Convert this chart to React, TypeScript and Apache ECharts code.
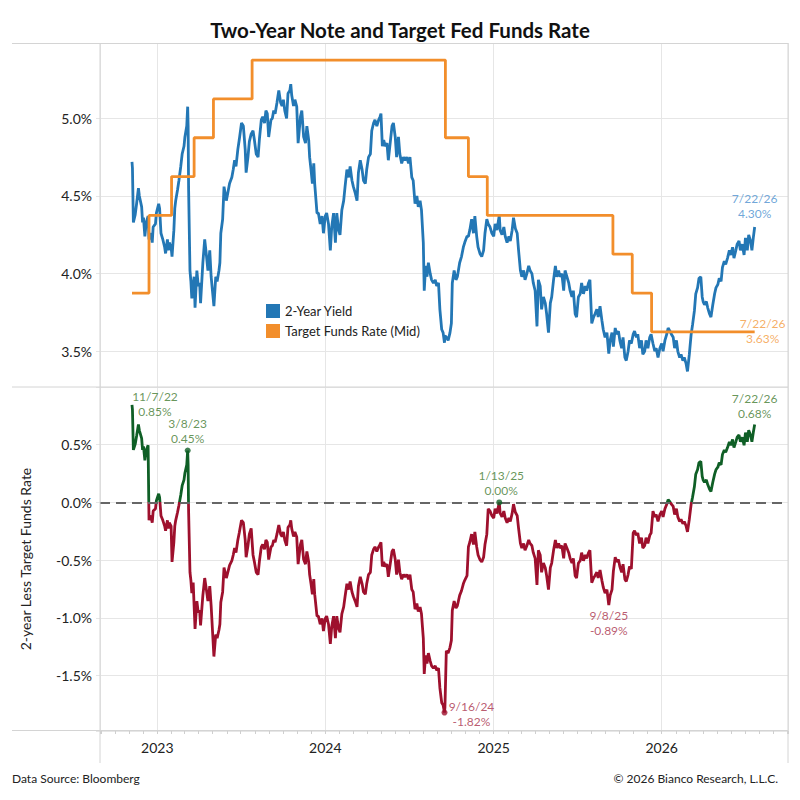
import React, { useEffect, useRef } from "react";
import * as echarts from "echarts";

// ---------- DATA ----------
const twoYearYield: [string, number][] = [
  ["2022-11-07", 4.72], ["2022-11-08", 4.68], ["2022-11-10", 4.33], ["2022-11-14", 4.38], ["2022-11-17", 4.45],
  ["2022-11-21", 4.55], ["2022-11-23", 4.5], ["2022-11-28", 4.43], ["2022-11-30", 4.33], ["2022-12-02", 4.36],
  ["2022-12-05", 4.24], ["2022-12-08", 4.33], ["2022-12-12", 4.37], ["2022-12-14", 4.22], ["2022-12-16", 4.26],
  ["2022-12-19", 4.24], ["2022-12-21", 4.2], ["2022-12-23", 4.3], ["2022-12-28", 4.32], ["2022-12-30", 4.39],
  ["2023-01-04", 4.45], ["2023-01-06", 4.42], ["2023-01-09", 4.26], ["2023-01-11", 4.24], ["2023-01-13", 4.22],
  ["2023-01-17", 4.17], ["2023-01-19", 4.13], ["2023-01-23", 4.22], ["2023-01-25", 4.15], ["2023-01-27", 4.2],
  ["2023-01-31", 4.17], ["2023-02-02", 4.11], ["2023-02-06", 4.28], ["2023-02-08", 4.42], ["2023-02-10", 4.47],
  ["2023-02-14", 4.54], ["2023-02-17", 4.6], ["2023-02-21", 4.69], ["2023-02-24", 4.77], ["2023-02-28", 4.82],
  ["2023-03-02", 4.88], ["2023-03-06", 4.95], ["2023-03-08", 5.075], ["2023-03-09", 4.95], ["2023-03-10", 4.55],
  ["2023-03-13", 4.02], ["2023-03-15", 3.95], ["2023-03-17", 3.84], ["2023-03-20", 3.93], ["2023-03-22", 3.98],
  ["2023-03-24", 3.78], ["2023-03-28", 4.02], ["2023-03-31", 3.92], ["2023-04-03", 3.94], ["2023-04-05", 3.81],
  ["2023-04-10", 4.07], ["2023-04-14", 4.22], ["2023-04-18", 4.11], ["2023-04-21", 4.02], ["2023-04-25", 4.15],
  ["2023-04-28", 3.98], ["2023-05-04", 3.79], ["2023-05-08", 3.98], ["2023-05-11", 3.95], ["2023-05-15", 4.02],
  ["2023-05-17", 4.07], ["2023-05-19", 4.26], ["2023-05-23", 4.35], ["2023-05-26", 4.56], ["2023-05-31", 4.47],
  ["2023-06-02", 4.5], ["2023-06-07", 4.58], ["2023-06-12", 4.62], ["2023-06-15", 4.67], ["2023-06-18", 4.73],
  ["2023-06-21", 4.69], ["2023-06-25", 4.8], ["2023-06-28", 4.86], ["2023-07-03", 4.97], ["2023-07-07", 4.95],
  ["2023-07-11", 4.8], ["2023-07-13", 4.65], ["2023-07-17", 4.75], ["2023-07-20", 4.85], ["2023-07-24", 4.9],
  ["2023-07-28", 4.92], ["2023-07-31", 4.86], ["2023-08-04", 4.77], ["2023-08-08", 4.75], ["2023-08-11", 4.87],
  ["2023-08-15", 4.99], ["2023-08-18", 5.01], ["2023-08-22", 4.97], ["2023-08-25", 5.05], ["2023-08-28", 5.03],
  ["2023-08-31", 4.88], ["2023-09-05", 4.99], ["2023-09-08", 5.0], ["2023-09-11", 5.05], ["2023-09-14", 5.03],
  ["2023-09-18", 5.1], ["2023-09-20", 5.14], ["2023-09-22", 5.18], ["2023-09-26", 5.1], ["2023-09-29", 5.08],
  ["2023-10-02", 5.12], ["2023-10-05", 5.05], ["2023-10-09", 5.0], ["2023-10-12", 5.16], ["2023-10-16", 5.18],
  ["2023-10-18", 5.22], ["2023-10-20", 5.15], ["2023-10-24", 5.08], ["2023-10-27", 5.12], ["2023-10-31", 5.075],
  ["2023-11-03", 4.84], ["2023-11-08", 5.01], ["2023-11-11", 5.05], ["2023-11-15", 4.88], ["2023-11-19", 4.84],
  ["2023-11-22", 4.95], ["2023-11-26", 4.86], ["2023-11-28", 4.75], ["2023-12-01", 4.67], ["2023-12-04", 4.58],
  ["2023-12-07", 4.71], ["2023-12-09", 4.58], ["2023-12-14", 4.39], ["2023-12-17", 4.39], ["2023-12-21", 4.32],
  ["2023-12-25", 4.37], ["2023-12-28", 4.26], ["2024-01-01", 4.37], ["2024-01-04", 4.39], ["2024-01-08", 4.32],
  ["2024-01-12", 4.15], ["2024-01-15", 4.3], ["2024-01-19", 4.39], ["2024-01-23", 4.2], ["2024-01-26", 4.39],
  ["2024-01-30", 4.28], ["2024-02-02", 4.25], ["2024-02-06", 4.41], ["2024-02-10", 4.47], ["2024-02-13", 4.56],
  ["2024-02-17", 4.67], ["2024-02-21", 4.62], ["2024-02-24", 4.69], ["2024-02-28", 4.6], ["2024-03-02", 4.56],
  ["2024-03-06", 4.52], ["2024-03-10", 4.47], ["2024-03-13", 4.65], ["2024-03-17", 4.73], ["2024-03-21", 4.67],
  ["2024-03-24", 4.6], ["2024-03-28", 4.58], ["2024-03-31", 4.67], ["2024-04-04", 4.75], ["2024-04-08", 4.77],
  ["2024-04-11", 4.92], ["2024-04-15", 4.97], ["2024-04-18", 4.99], ["2024-04-22", 4.95], ["2024-04-26", 4.99],
  ["2024-04-29", 5.01], ["2024-05-01", 5.03], ["2024-05-04", 4.82], ["2024-05-07", 4.86], ["2024-05-10", 4.82],
  ["2024-05-14", 4.84], ["2024-05-17", 4.73], ["2024-05-21", 4.84], ["2024-05-25", 4.95], ["2024-05-28", 4.97],
  ["2024-06-01", 4.88], ["2024-06-04", 4.75], ["2024-06-08", 4.88], ["2024-06-11", 4.77], ["2024-06-15", 4.71],
  ["2024-06-19", 4.75], ["2024-06-22", 4.73], ["2024-06-26", 4.75], ["2024-06-30", 4.71], ["2024-07-03", 4.75],
  ["2024-07-07", 4.62], ["2024-07-10", 4.6], ["2024-07-14", 4.45], ["2024-07-18", 4.5], ["2024-07-21", 4.43],
  ["2024-07-25", 4.47], ["2024-07-28", 4.41], ["2024-08-01", 4.2], ["2024-08-03", 3.89], ["2024-08-06", 4.05],
  ["2024-08-09", 3.98], ["2024-08-12", 4.07], ["2024-08-16", 4.0], ["2024-08-19", 3.96], ["2024-08-23", 3.94],
  ["2024-08-27", 3.96], ["2024-08-30", 3.92], ["2024-09-03", 3.94], ["2024-09-06", 3.77], ["2024-09-10", 3.64],
  ["2024-09-13", 3.62], ["2024-09-16", 3.555], ["2024-09-17", 3.6], ["2024-09-20", 3.59], ["2024-09-24", 3.57],
  ["2024-09-28", 3.62], ["2024-10-01", 3.68], ["2024-10-03", 3.94], ["2024-10-07", 4.02], ["2024-10-11", 3.96],
  ["2024-10-14", 3.98], ["2024-10-19", 4.07], ["2024-10-23", 4.11], ["2024-10-27", 4.17], ["2024-10-30", 4.2],
  ["2024-11-04", 4.24], ["2024-11-07", 4.24], ["2024-11-10", 4.28], ["2024-11-14", 4.35], ["2024-11-18", 4.26],
  ["2024-11-21", 4.37], ["2024-11-25", 4.24], ["2024-11-28", 4.17], ["2024-12-02", 4.13], ["2024-12-06", 4.11],
  ["2024-12-10", 4.15], ["2024-12-13", 4.26], ["2024-12-17", 4.35], ["2024-12-20", 4.32], ["2024-12-24", 4.3],
  ["2024-12-28", 4.26], ["2025-01-01", 4.24], ["2025-01-04", 4.32], ["2025-01-08", 4.28], ["2025-01-13", 4.375],
  ["2025-01-15", 4.28], ["2025-01-19", 4.25], ["2025-01-23", 4.3], ["2025-01-26", 4.24], ["2025-01-30", 4.2],
  ["2025-02-03", 4.24], ["2025-02-06", 4.21], ["2025-02-10", 4.28], ["2025-02-13", 4.36], ["2025-02-17", 4.29],
  ["2025-02-21", 4.26], ["2025-02-24", 4.15], ["2025-02-28", 4.02], ["2025-03-03", 3.98], ["2025-03-07", 4.02],
  ["2025-03-10", 3.96], ["2025-03-14", 4.0], ["2025-03-18", 4.05], ["2025-03-21", 4.02], ["2025-03-25", 4.0],
  ["2025-03-28", 3.94], ["2025-04-01", 3.89], ["2025-04-05", 3.66], ["2025-04-08", 3.96], ["2025-04-12", 3.92],
  ["2025-04-15", 3.77], ["2025-04-19", 3.85], ["2025-04-23", 3.81], ["2025-04-26", 3.74], ["2025-04-30", 3.62],
  ["2025-05-04", 3.81], ["2025-05-07", 3.85], ["2025-05-11", 3.96], ["2025-05-15", 4.05], ["2025-05-18", 3.98],
  ["2025-05-22", 4.02], ["2025-05-25", 3.98], ["2025-05-29", 4.0], ["2025-06-02", 3.89], ["2025-06-05", 4.02],
  ["2025-06-09", 3.98], ["2025-06-13", 3.94], ["2025-06-16", 3.89], ["2025-06-20", 3.85], ["2025-06-23", 3.89],
  ["2025-06-27", 3.74], ["2025-06-30", 3.72], ["2025-07-04", 3.85], ["2025-07-08", 3.87], ["2025-07-11", 3.94],
  ["2025-07-15", 3.87], ["2025-07-19", 3.92], ["2025-07-22", 3.89], ["2025-07-26", 3.94], ["2025-07-29", 3.96],
  ["2025-08-02", 3.68], ["2025-08-06", 3.72], ["2025-08-09", 3.74], ["2025-08-13", 3.77], ["2025-08-16", 3.72],
  ["2025-08-20", 3.79], ["2025-08-24", 3.7], ["2025-08-27", 3.64], ["2025-08-31", 3.59], ["2025-09-04", 3.62],
  ["2025-09-08", 3.485], ["2025-09-11", 3.57], ["2025-09-15", 3.62], ["2025-09-18", 3.53], ["2025-09-22", 3.65],
  ["2025-09-25", 3.61], ["2025-09-29", 3.63], ["2025-10-02", 3.57], ["2025-10-06", 3.52], ["2025-10-09", 3.59],
  ["2025-10-13", 3.46], ["2025-10-16", 3.44], ["2025-10-20", 3.5], ["2025-10-23", 3.57], ["2025-10-27", 3.55],
  ["2025-10-31", 3.61], ["2025-11-03", 3.63], ["2025-11-07", 3.59], ["2025-11-10", 3.61], ["2025-11-14", 3.52],
  ["2025-11-18", 3.57], ["2025-11-21", 3.48], ["2025-11-25", 3.5], ["2025-11-28", 3.57], ["2025-12-02", 3.52],
  ["2025-12-06", 3.59], ["2025-12-09", 3.61], ["2025-12-13", 3.55], ["2025-12-17", 3.5], ["2025-12-20", 3.52],
  ["2025-12-24", 3.46], ["2025-12-28", 3.52], ["2026-01-01", 3.55], ["2026-01-04", 3.5], ["2026-01-08", 3.57],
  ["2026-01-12", 3.61], ["2026-01-15", 3.65], ["2026-01-19", 3.63], ["2026-01-22", 3.61], ["2026-01-26", 3.59],
  ["2026-01-29", 3.52], ["2026-02-02", 3.57], ["2026-02-05", 3.5], ["2026-02-09", 3.46], ["2026-02-12", 3.48],
  ["2026-02-16", 3.44], ["2026-02-19", 3.46], ["2026-02-23", 3.42], ["2026-02-26", 3.37], ["2026-03-02", 3.48],
  ["2026-03-06", 3.61], ["2026-03-09", 3.67], ["2026-03-13", 3.76], ["2026-03-16", 3.87], ["2026-03-20", 3.91],
  ["2026-03-23", 3.97], ["2026-03-27", 3.98], ["2026-03-30", 3.85], ["2026-04-01", 3.82], ["2026-04-04", 3.8],
  ["2026-04-08", 3.82], ["2026-04-11", 3.78], ["2026-04-15", 3.74], ["2026-04-18", 3.72], ["2026-04-22", 3.8],
  ["2026-04-26", 3.87], ["2026-04-29", 3.91], ["2026-05-03", 3.93], ["2026-05-06", 3.97], ["2026-05-10", 3.95],
  ["2026-05-13", 4.04], ["2026-05-17", 4.08], ["2026-05-20", 4.06], ["2026-05-24", 4.1], ["2026-05-28", 4.15],
  ["2026-05-31", 4.12], ["2026-06-04", 4.17], ["2026-06-07", 4.1], ["2026-06-11", 4.15], ["2026-06-14", 4.19],
  ["2026-06-18", 4.21], ["2026-06-21", 4.15], ["2026-06-25", 4.19], ["2026-06-29", 4.12], ["2026-07-02", 4.23],
  ["2026-07-06", 4.15], ["2026-07-09", 4.25], ["2026-07-13", 4.21], ["2026-07-16", 4.15], ["2026-07-19", 4.23],
  ["2026-07-22", 4.3],
];

// Target fed funds rate (mid of range): [effective date, rate]
const fedFundsSteps: [string, number][] = [
  ["2022-11-07", 3.875], ["2022-12-14", 4.375], ["2023-02-01", 4.625], ["2023-03-22", 4.875],
  ["2023-05-03", 5.125], ["2023-07-26", 5.375], ["2024-09-18", 4.875], ["2024-11-07", 4.625],
  ["2024-12-18", 4.375], ["2025-09-17", 4.125], ["2025-10-29", 3.875], ["2025-12-10", 3.625],
  ["2026-07-22", 3.625],
];

const yearTicks = [2023, 2024, 2025, 2026];
const topTicks = [3.5, 4.0, 4.5, 5.0];
const bottomTicks = [-1.5, -1.0, -0.5, 0.0, 0.5];

const spreadNoteDates = ["2022-11-07", "2023-03-08", "2025-01-13", "2024-09-16", "2025-09-08", "2026-07-22"];
const spreadNoteTexts = ["11/7/22\n0.85%", "3/8/23\n0.45%", "1/13/25\n0.00%", "9/16/24\n-1.82%", "9/8/25\n-0.89%", "7/22/26\n0.68%"];
const yieldNoteDate = "2026-07-22";
const yieldNoteText = "7/22/26\n4.30%";
const fedNoteText = "7/22/26\n3.63%";

// ---------- helpers ----------
const ffAt = (d: string) => {
  let v = fedFundsSteps[0][1];
  for (const [sd, sv] of fedFundsSteps) if (sd <= d) v = sv;
  return v;
};
const spreadSeries: [string, number][] = twoYearYield.map(([d, y]) => [d, Math.round((y - ffAt(d)) * 1000) / 1000]);
const valueAt = (arr: [string, number][], d: string) => (arr.find((p) => p[0] === d) || arr[arr.length - 1])[1];

const FONT = "Lato, 'Open Sans', sans-serif";
const BLUE = "#2377b5";
const ORANGE = "#f28e2b";
const GREEN = "#0f5f26";
const RED = "#9e102d";
const GREEN_TXT = "#3f7a2f";
const RED_TXT = "#a8304a";
const GRID_C = "#e6e6e6";
const FRAME_C = "#d4d4d4";
const CLEAR = "rgba(0,0,0,0)";

const X_MIN = new Date(2022, 7, 29, 12).getTime();
const X_MAX = new Date(2026, 9, 2, 10).getTime();

const yearFmt = (v: number) => {
  const d = new Date(v);
  return d.getMonth() === 0 && d.getDate() === 1 && yearTicks.includes(d.getFullYear()) ? String(d.getFullYear()) : "";
};
const pctFmt = (ticks: number[]) => (v: number) =>
  ticks.some((t) => Math.abs(t - v) < 1e-6) ? v.toFixed(1) + "%" : "";

// label offsets / styling for notes (presentation, not data)
const spreadNoteStyle = [
  { off: [23, -1], c: GREEN_TXT, dot: 0, dc: GREEN },
  { off: [0, -19], c: GREEN_TXT, dot: 6, dc: GREEN },
  { off: [2, -19], c: GREEN_TXT, dot: 6, dc: GREEN },
  { off: [27, 1], c: RED_TXT, dot: 6, dc: RED },
  { off: [0, 18], c: RED_TXT, dot: 0, dc: RED },
  { off: [0, -19], c: GREEN_TXT, dot: 0, dc: GREEN },
];

export default function App() {
  const ref = useRef<HTMLDivElement>(null);
  useEffect(() => {
    document.body.style.margin = "0";
    if (!ref.current) return;
    const chart = echarts.init(ref.current, undefined, { renderer: "svg" });

    const yearAxisBase = {
      type: "time",
      min: X_MIN,
      max: X_MAX,
      splitNumber: 4,
      axisLine: { show: false },
      axisTick: { show: false },
      splitLine: { show: true, lineStyle: { color: GRID_C, width: 1 } },
    };

    const noteLabel = (text: string, color: string, off: number[]) => ({
      show: true,
      position: "inside",
      offset: off,
      formatter: text,
      color,
      fontSize: 12,
      lineHeight: 15,
      fontFamily: FONT,
      align: "center",
    });

    const option: any = {
      animation: false,
      backgroundColor: "#ffffff",
      textStyle: { fontFamily: FONT },
      title: {
        text: "Two-Year Note and Target Fed Funds Rate",
        left: "center",
        top: 14,
        textStyle: { fontFamily: FONT, fontSize: 20.5, fontWeight: "bold", color: "#111" },
      },
      legend: {
        data: ["2-Year Yield", "Target Funds Rate (Mid)"],
        orient: "vertical",
        left: 266,
        top: 304,
        padding: 0,
        icon: "rect",
        itemWidth: 14,
        itemHeight: 14,
        itemGap: 6,
        textStyle: { fontFamily: FONT, fontSize: 13, color: "#222" },
      },
      grid: [
        { left: 100, right: 12, top: 43, height: 344, containLabel: false },
        { left: 100, right: 12, top: 387, height: 344, containLabel: false },
      ],
      xAxis: [
        { ...yearAxisBase, gridIndex: 0, axisLabel: { show: false } },
        {
          ...yearAxisBase,
          gridIndex: 1,
          axisLabel: { show: true, formatter: yearFmt, fontFamily: FONT, fontSize: 14, color: "#222", margin: 9 },
        },
        {
          type: "time",
          gridIndex: 1,
          min: X_MIN,
          max: X_MAX,
          splitNumber: 50,
          position: "bottom",
          axisLine: { show: false },
          axisTick: { show: true, length: 3, lineStyle: { color: "#cfcfcf" } },
          axisLabel: { show: false },
          splitLine: { show: false },
        },
      ],
      yAxis: [
        {
          type: "value",
          gridIndex: 0,
          min: 3.27,
          max: 5.485,
          axisLine: { show: false },
          axisTick: { show: true, length: 4, lineStyle: { color: GRID_C } },
          splitLine: { lineStyle: { color: GRID_C } },
          axisLabel: { formatter: pctFmt(topTicks), fontFamily: FONT, fontSize: 14, color: "#222", margin: 8 },
        },
        {
          type: "value",
          gridIndex: 1,
          min: -1.98,
          max: 1.0,
          name: "2-year Less Target Funds Rate",
          nameLocation: "middle",
          nameRotate: 90,
          nameGap: 68,
          nameTextStyle: { fontFamily: FONT, fontSize: 14, color: "#222" },
          axisLine: { show: false },
          axisTick: { show: true, length: 4, lineStyle: { color: GRID_C } },
          splitLine: { lineStyle: { color: GRID_C } },
          axisLabel: { formatter: pctFmt(bottomTicks), fontFamily: FONT, fontSize: 14, color: "#222", margin: 8 },
        },
      ],
      visualMap: {
        show: false,
        type: "piecewise",
        seriesIndex: 2,
        dimension: 1,
        pieces: [
          { gte: -10, lt: 0, color: RED },
          { gte: 0, lte: 10, color: GREEN },
        ],
      },
      series: [
        {
          name: "2-Year Yield",
          type: "line",
          xAxisIndex: 0,
          yAxisIndex: 0,
          data: twoYearYield,
          showSymbol: false,
          color: BLUE,
          lineStyle: { color: BLUE, width: 2.8 },
          z: 3,
        },
        {
          name: "Target Funds Rate (Mid)",
          type: "line",
          step: "end",
          xAxisIndex: 0,
          yAxisIndex: 0,
          data: fedFundsSteps,
          showSymbol: false,
          color: ORANGE,
          lineStyle: { color: ORANGE, width: 2.8 },
          z: 4,
        },
        {
          name: "Spread",
          type: "line",
          xAxisIndex: 1,
          yAxisIndex: 1,
          data: spreadSeries,
          showSymbol: false,
          lineStyle: { width: 2.8 },
          z: 3,
          markLine: {
            silent: true,
            symbol: "none",
            label: { show: false },
            lineStyle: { color: "#666", type: [10, 6], width: 2 },
            data: [{ yAxis: 0 }],
          },
        },
        {
          name: "TopNotes",
          type: "scatter",
          xAxisIndex: 0,
          yAxisIndex: 0,
          z: 6,
          data: [
            {
              value: [yieldNoteDate, valueAt(twoYearYield, yieldNoteDate)],
              symbolSize: 2,
              itemStyle: { color: CLEAR },
              label: noteLabel(yieldNoteText, "#4b8fcf", [0, -21]),
            },
            {
              value: [yieldNoteDate, valueAt(fedFundsSteps, yieldNoteDate)],
              symbolSize: 2,
              itemStyle: { color: CLEAR },
              label: noteLabel(fedNoteText, "#f39a3d", [8, -1]),
            },
          ],
        },
        {
          name: "BottomNotes",
          type: "scatter",
          xAxisIndex: 1,
          yAxisIndex: 1,
          z: 6,
          data: spreadNoteDates.map((d, i) => ({
            value: [d, valueAt(spreadSeries, d)],
            symbolSize: spreadNoteStyle[i].dot || 2,
            itemStyle: { color: spreadNoteStyle[i].dot ? spreadNoteStyle[i].dc : CLEAR },
            label: noteLabel(spreadNoteTexts[i], spreadNoteStyle[i].c, spreadNoteStyle[i].off),
          })),
        },
      ],
      graphic: [
        { type: "line", z: 100, shape: { x1: 12, y1: 43.5, x2: 788, y2: 43.5 }, style: { stroke: FRAME_C, lineWidth: 1 } },
        { type: "line", z: 100, shape: { x1: 12, y1: 387, x2: 788, y2: 387 }, style: { stroke: FRAME_C, lineWidth: 1 } },
        { type: "line", z: 100, shape: { x1: 12, y1: 730.5, x2: 788, y2: 730.5 }, style: { stroke: FRAME_C, lineWidth: 1 } },
        { type: "line", z: 100, shape: { x1: 100, y1: 43, x2: 100, y2: 763 }, style: { stroke: FRAME_C, lineWidth: 1 } },
        { type: "line", z: 100, shape: { x1: 788, y1: 43, x2: 788, y2: 763 }, style: { stroke: FRAME_C, lineWidth: 1 } },
        {
          type: "text", left: 12, top: 772,
          style: { text: "Data Source: Bloomberg", fontFamily: FONT, fontSize: 12, fill: "#222" },
        },
        {
          type: "text", right: 22, top: 772,
          style: { text: "© 2026 Bianco Research, L.L.C.", fontFamily: FONT, fontSize: 12, fill: "#222" },
        },
      ],
    };

    chart.setOption(option);
    return () => chart.dispose();
  }, []);

  return <div ref={ref} style={{ width: 800, height: 800 }} />;
}
